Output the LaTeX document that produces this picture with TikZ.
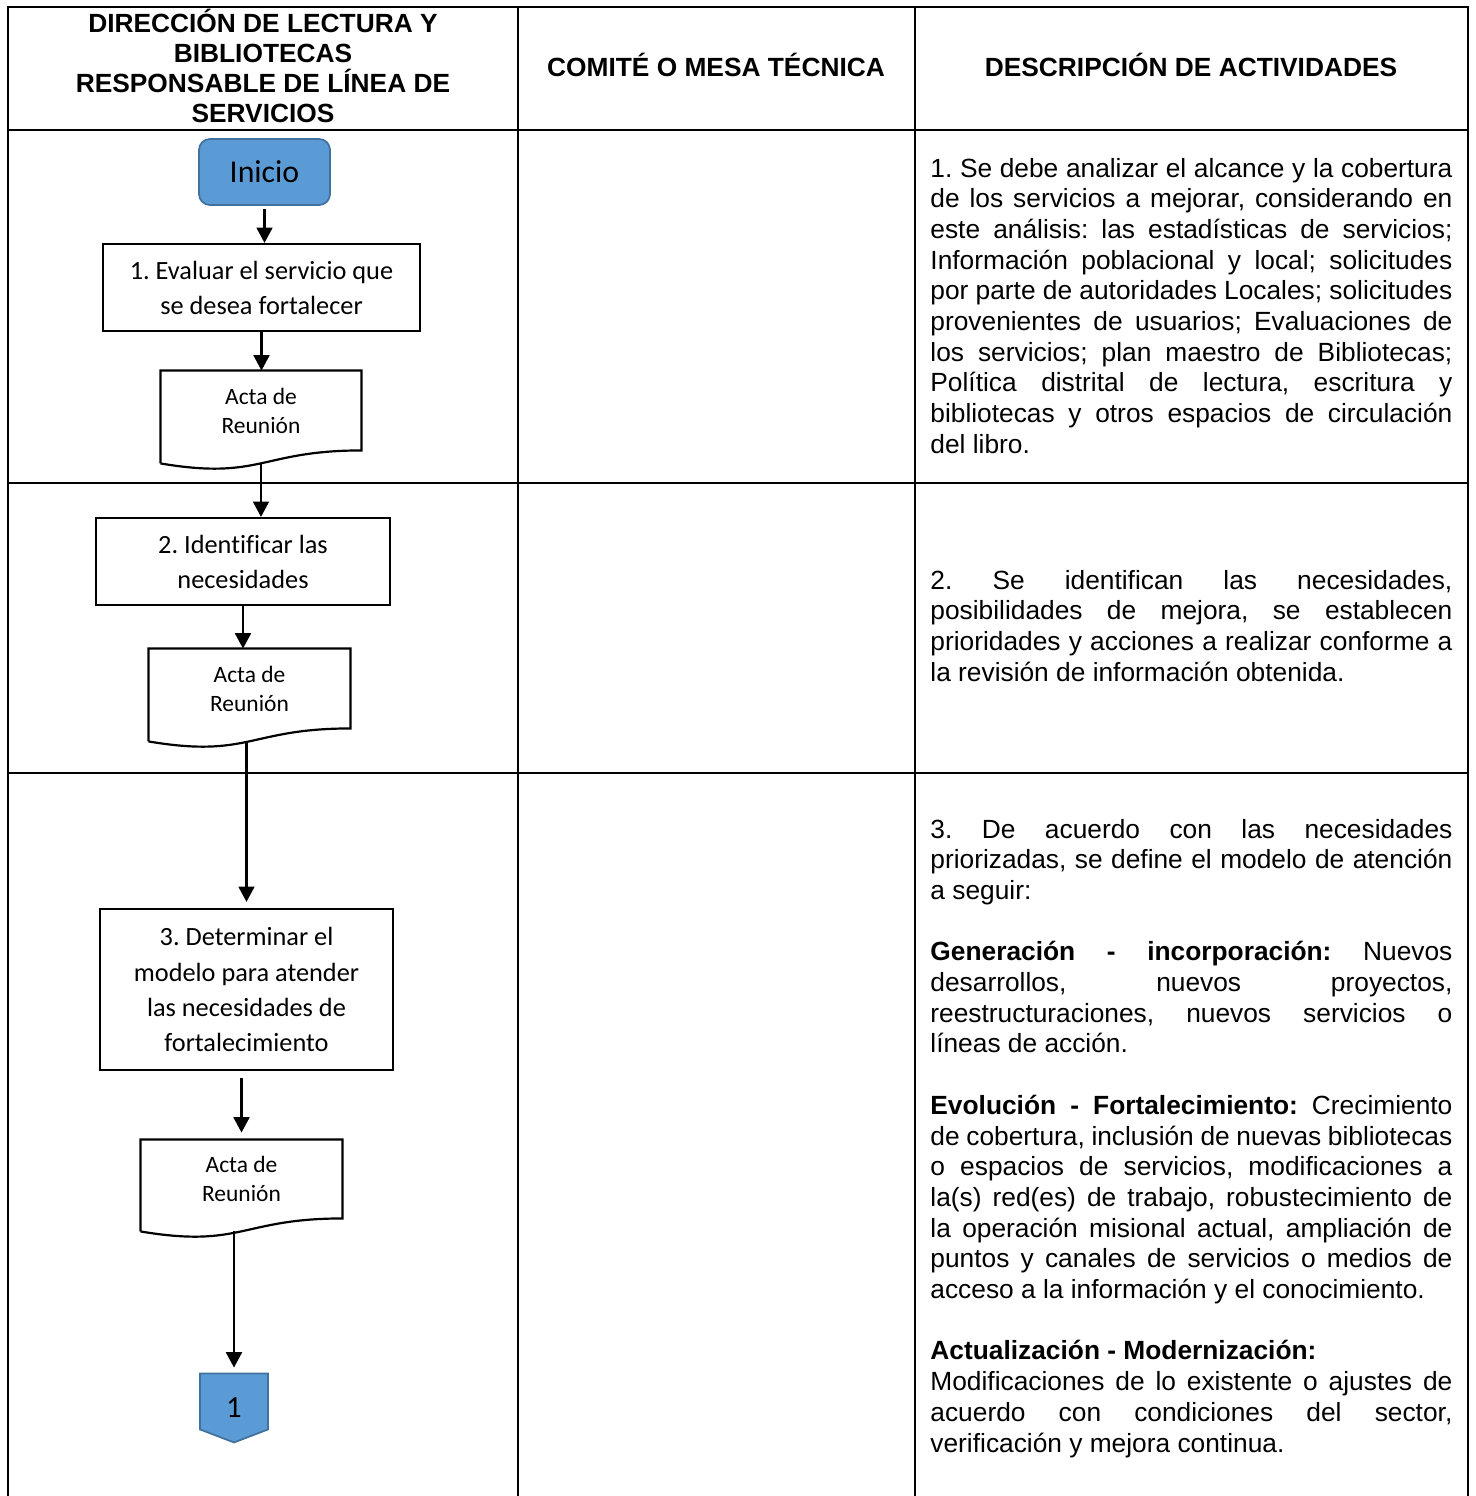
\documentclass[tikz,border=0pt]{standalone}
\usepackage{fontspec}
\setmainfont{Liberation Sans}
\newfontfamily\calibri{Carlito}[Ligatures=NoCommon]
\usetikzlibrary{arrows.meta}

\definecolor{azulbox}{RGB}{91,155,213}
\definecolor{azulborde}{RGB}{65,113,156}
\newcommand{\px}{0.456pt}
\frenchspacing

\begin{document}
\begin{tikzpicture}[x=\px, y=-\px,
        linea/.style={line width=0.9pt, black},
        caja/.style={draw, line width=1pt, align=center, font={\calibri\fontsize{12}{16}\selectfont}},
        acta/.style={inner sep=0pt, align=center, font={\calibri\fontsize{10.7}{13.2}\selectfont}},
        flecha/.style={line width=1.1pt, -{Triangle[width=7.2pt,length=7pt]}},
        titulo/.style={align=center, font={\bfseries\fontsize{12}{13.8}\selectfont}},
        texto/.style={anchor=base west, inner sep=0pt, text width=238pt, align=justify,
            font={\fontsize{12}{14}\selectfont\frenchspacing\hyphenpenalty=10000\tolerance=10000\relax}}]
        \useasboundingbox (0,0) rectangle (1475,1496);
        \fill[white] (0,0) rectangle (1475,1496);

        % tabla
        \draw[linea] (8,1496) -- (8,7) -- (1468,7) -- (1468,1496);
        \draw[linea] (518,7) -- (518,1496);
        \draw[linea] (915,7) -- (915,1496);
        \foreach \y in {130,483,773}
            \draw[linea] (8,\y) -- (1468,\y);

        \node[titulo] (h1) at (263,66) {DIRECCIÓN DE LECTURA Y\\BIBLIOTECAS\\RESPONSABLE DE LÍNEA DE\\SERVICIOS};
        \node[titulo] (h2) at (716,65) {COMITÉ O MESA TÉCNICA};
        \node[titulo] (h3) at (1191,65) {DESCRIPCIÓN DE ACTIVIDADES};

        % flujo
        \node[draw=azulborde, fill=azulbox, rounded corners=5pt, line width=0.8pt, minimum width=131*\px, minimum height=66*\px, font={\calibri\fontsize{14.5}{16}\selectfont}] (ini) at (264.5,172) {Inicio};
        \node[caja, minimum width=317*\px, minimum height=87*\px] (b1) at (261.5,287.5) {1. Evaluar el servicio que\\se desea fortalecer};
        \node[acta, minimum width=200*\px, minimum height=79*\px] (a1) at (261,410.5) {Acta de\\Reunión};
        \node[caja, minimum width=294*\px, minimum height=87*\px] (b2) at (243,561.5) {2. Identificar las\\necesidades};
        \node[acta, minimum width=201*\px, minimum height=79*\px] (a2) at (249.5,688.5) {Acta de\\Reunión};
        \node[caja, minimum width=293*\px, minimum height=161*\px] (b3) at (246.5,989.5) {3. Determinar el\\modelo para atender\\las necesidades de\\fortalecimiento};
        \node[acta, minimum width=201*\px, minimum height=78*\px] (a3) at (241.5,1179) {Acta de\\Reunión};
        \node[inner sep=0pt, minimum width=67*\px, minimum height=68*\px] (c1) at (234,1408) {};

        \foreach \n in {a1,a2,a3}
            \draw[line width=1pt] ([yshift=-13*\px]\n.south west) -- (\n.north west) -- (\n.north east) -- (\n.south east)
                .. controls (\n.south) and ([yshift=-30*\px]\n.south) .. ([yshift=-13*\px]\n.south west) coordinate[pos=0.5] (\n-b);
        \draw[azulborde, fill=azulbox, line width=0.8pt] (c1.north west) -- (c1.north east) -- ([yshift=13*\px]c1.south east) -- (c1.south) -- ([yshift=13*\px]c1.south west) -- cycle;
        \node[inner sep=0pt, font={\calibri\fontsize{14}{16}\selectfont}] (c1t) at (c1) {1};

        \draw[flecha, shorten <=3*\px] (ini.south) -- (ini.south |- b1.north);
        \draw[flecha] (b1.south) -- (b1.south |- a1.north);
        \draw[flecha] (a1-b) -- (a1-b |- b2.north);
        \draw[flecha] (b2.south) -- (b2.south |- a2.north);
        \draw[flecha, shorten >=6*\px] (b3.north |- a2-b) -- (b3.north);
        \draw[flecha, shorten <=7*\px, shorten >=7*\px] (a3.north |- b3.south) -- (a3.north);
        \draw[flecha, shorten >=6*\px] (c1.north |- a3-b) -- (c1.north);

        % descripcion
        \node[texto] (d1) at (930,177) {1. Se debe analizar el alcance y la cobertura\linebreak
            de los servicios a mejorar, considerando en\linebreak
            este análisis: las estadísticas de servicios;\linebreak
            Información poblacional y local; solicitudes\linebreak
            por parte de autoridades Locales; solicitudes\linebreak
            provenientes de usuarios; Evaluaciones de\linebreak
            los servicios; plan maestro de Bibliotecas;\linebreak
            Política distrital de lectura, escritura y\linebreak
            bibliotecas y otros espacios de circulación\linebreak
            del libro.};
        \node[texto] (d2) at (930,589) {2. Se identifican las necesidades,\linebreak
            posibilidades de mejora, se establecen\linebreak
            prioridades y acciones a realizar conforme a\linebreak
            la revisión de información obtenida.};
        \node[texto] (d3) at (930,838) {3. De acuerdo con las necesidades\linebreak
            priorizadas, se define el modelo de atención\linebreak
            a seguir:\par\vspace{\baselineskip}
            \textbf{Generación - incorporación:} Nuevos\linebreak
            desarrollos, nuevos proyectos,\linebreak
            reestructuraciones, nuevos servicios o\linebreak
            líneas de acción.\par\vspace{\baselineskip}
            \textbf{Evolución - Fortalecimiento:} Crecimiento\linebreak
            de cobertura, inclusión de nuevas bibliotecas\linebreak
            o espacios de servicios, modificaciones a\linebreak
            la(s) red(es) de trabajo, robustecimiento de\linebreak
            la operación misional actual, ampliación de\linebreak
            puntos y canales de servicios o medios de\linebreak
            acceso a la información y el conocimiento.\par\vspace{\baselineskip}
            \textbf{Actualización - Modernización:}\newline
            Modificaciones de lo existente o ajustes de\linebreak
            acuerdo con condiciones del sector,\linebreak
            verificación y mejora continua.};
    \end{tikzpicture}
\end{document}
